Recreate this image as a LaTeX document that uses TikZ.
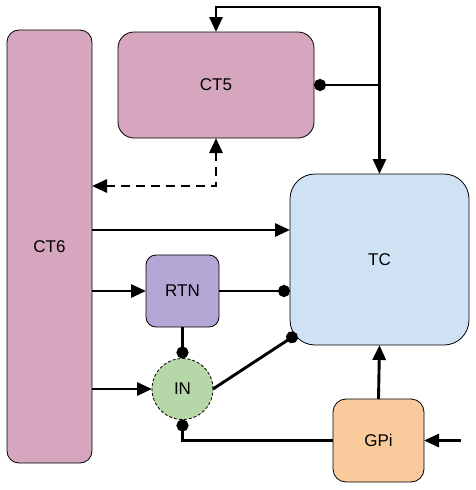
\documentclass[tikz,border=0pt]{standalone}
\usepackage{fontspec}
\setmainfont{Liberation Sans}
\usetikzlibrary{arrows.meta,calc}
\definecolor{ctpink}{HTML}{D5A6BD}
\definecolor{tcblue}{HTML}{CFE2F3}
\definecolor{rtnpurple}{HTML}{B4A7D6}
\definecolor{ingreen}{HTML}{B6D7A8}
\definecolor{gpiorange}{HTML}{F9CB9C}
\begin{document}
\begin{tikzpicture}[x=1pt,y=-1pt,
  box/.style={draw=black, line width=0.8pt, inner sep=0pt, outer sep=0pt, font=\fontsize{17}{20}\selectfont},
  arr/.style={line width=2.9pt, -{Triangle[length=15pt,width=13pt]}},
  dotend/.style={line width=2.9pt, -{Circle[length=12pt]}},
  dotstart/.style={line width=2.9pt, {Circle[length=12pt]}-},
]
\useasboundingbox (0,0) rectangle (476,490);
\node[box, fill=ctpink, rounded corners=12pt, minimum width=85pt, minimum height=433pt] (CT6) at (49.5,246.5) {CT6};
\node[box, fill=ctpink, rounded corners=16pt, minimum width=196pt, minimum height=106pt] (CT5) at (216,85) {CT5};
\node[box, fill=tcblue, rounded corners=25pt, minimum width=179pt, minimum height=171pt] (TC) at (379.5,259.5) {TC};
\node[box, fill=rtnpurple, rounded corners=10pt, minimum width=73pt, minimum height=72pt] (RTN) at (182.5,291) {RTN};
\node[box, fill=ingreen, circle, dashed, dash pattern=on 3pt off 2pt, minimum size=61pt] (IN) at (182.5,389) {IN};
\node[box, fill=gpiorange, rounded corners=13pt, minimum width=91pt, minimum height=83pt] (GPi) at (378.5,440.5) {GPi};

\coordinate (top) at (379.5,7);
\coordinate (dashy) at (0,186);
\coordinate (ctc) at (0,230);
\coordinate (tcdot) at (297,334);
\coordinate (gin) at (461,440.5);

% top loop
\draw[arr] (TC.north |- top) -| (CT5.north);
\draw[arr] (TC.north |- top) -- (TC.north);
\draw[dotstart] (CT5.east) -- (CT5.east -| TC.north);
% dashed
\draw[line width=2.9pt, dash pattern=on 9pt off 6pt, {Triangle[length=15pt,width=13pt]}-{Triangle[length=15pt,width=13pt]}] (CT5.south) |- (CT6.east |- dashy);
% CT6 outputs
\draw[arr] (CT6.east |- ctc) -- (TC.west |- ctc);
\draw[arr] (CT6.east |- RTN) -- (RTN.west);
\draw[arr] (CT6.east |- IN) -- (IN.west);
% RTN
\draw[dotend] (RTN.east) -- (TC.west |- RTN);
\draw[dotend] (RTN.south) -- (IN.north);
% IN
\draw[dotend] (IN.east) -- (tcdot);
\draw[dotstart] (IN.south) |- (GPi.west);
% GPi
\draw[arr] (GPi.north) -- (TC.south);
\draw[arr] (gin) -- (GPi.east);
\end{tikzpicture}
\end{document}
